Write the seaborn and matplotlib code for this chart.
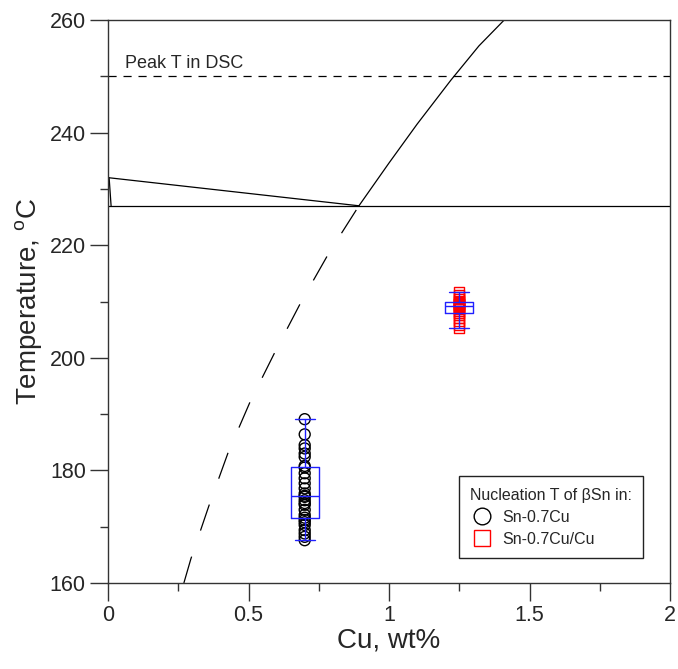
import numpy as np
import pandas as pd
import matplotlib
matplotlib.use("Agg")
import matplotlib.pyplot as plt
from matplotlib.lines import Line2D
from matplotlib.ticker import MultipleLocator
import seaborn as sns

# ---------------- data ----------------
alloys = ["Sn-0.7Cu", "Sn-0.7Cu/Cu"]
cu_levels = [0.7, 1.25]
t_sn07cu = [167.6, 168.2, 168.8, 169.4, 170.3, 170.8, 171.2, 171.6, 172.1, 173.0,
            173.9, 174.2, 174.7, 175.3, 175.5, 175.9, 176.8, 177.7, 178.6, 179.5,
            180.5, 180.8, 182.4, 183.0, 183.9, 184.5, 186.4, 189.1]
t_sn07cu_cu = [205.3, 205.9, 206.5, 207.0, 207.6, 208.0, 208.3, 208.6, 208.8, 209.0,
               209.2, 209.3, 209.5, 209.6, 209.8, 209.9, 210.1, 210.4, 210.8, 211.2,
               211.7]

# phase diagram lines
sn_liq_x = [0.0, 0.893]
sn_liq_T = [232.0, 227.0]
sn_sol_x = [0.004, 0.011]
sn_sol_T = [232.0, 227.0]
eut_x = [0.0, 2.0]
eut_T = [227.0, 227.0]
cu6sn5_meta_x = [0.270, 0.295, 0.359, 0.427, 0.505, 0.594, 0.687, 0.786, 0.893]
cu6sn5_meta_T = [160.0, 164.3, 173.7, 183.1, 192.1, 201.0, 209.9, 218.6, 227.0]
cu6sn5_x = [0.893, 1.0, 1.10, 1.22, 1.32, 1.41, 1.43]
cu6sn5_T = [227.0, 234.6, 241.5, 249.3, 255.4, 260.0, 261.0]
peak_T = 250.0
peak_label = "Peak T in DSC"

x_ticks = [0, 0.5, 1, 1.5, 2]
x_tick_labels = ["0", "0.5", "1", "1.5", "2"]
y_ticks = [160, 180, 200, 220, 240, 260]
y_tick_labels = ["160", "180", "200", "220", "240", "260"]

df = pd.DataFrame({
    "Cu": [cu_levels[0]] * len(t_sn07cu) + [cu_levels[1]] * len(t_sn07cu_cu),
    "T": t_sn07cu + t_sn07cu_cu,
    "alloy": [alloys[0]] * len(t_sn07cu) + [alloys[1]] * len(t_sn07cu_cu),
})

# ---------------- style ----------------
sns.set_style("ticks")
plt.rcParams["font.family"] = ["Liberation Sans", "DejaVu Sans"]
plt.rcParams["mathtext.fontset"] = "custom"
plt.rcParams["mathtext.rm"] = "Liberation Sans"
plt.rcParams["mathtext.it"] = "Liberation Sans:italic"

fig = plt.figure(figsize=(6.78, 6.69), dpi=100)
ax = fig.add_axes([108 / 678, 86 / 669, 562 / 678, 563 / 669])

lw = 0.9
sns.lineplot(x=sn_liq_x, y=sn_liq_T, ax=ax, color="black", linewidth=lw, sort=False, estimator=None)
sns.lineplot(x=sn_sol_x, y=sn_sol_T, ax=ax, color="black", linewidth=lw, sort=False, estimator=None)
sns.lineplot(x=eut_x, y=eut_T, ax=ax, color="black", linewidth=lw, sort=False, estimator=None)
sns.lineplot(x=cu6sn5_meta_x, y=cu6sn5_meta_T, ax=ax, color="black", linewidth=lw,
             sort=False, estimator=None, linestyle=(0, (22, 22)))
sns.lineplot(x=cu6sn5_x, y=cu6sn5_T, ax=ax, color="black", linewidth=lw, sort=False, estimator=None)
ax.axhline(peak_T, color="black", linewidth=lw, linestyle=(0, (6.5, 5.5)))
ax.text(0.06, peak_T + 0.8, peak_label, fontsize=13, ha="left", va="bottom")

# scatter points
sns.scatterplot(data=df[df.alloy == alloys[0]], x="Cu", y="T", ax=ax, marker="o",
                s=62, edgecolor="black", linewidth=1.0, legend=False)
ax.collections[-1].set_facecolor("none")
sns.scatterplot(data=df[df.alloy == alloys[1]], x="Cu", y="T", ax=ax, marker="s",
                s=52, edgecolor="red", linewidth=1.0, legend=False)
ax.collections[-1].set_facecolor("none")

# box plots
sns.boxplot(data=df, x="Cu", y="T", ax=ax, native_scale=True, width=0.1 / 0.55,
            fill=False, color="#2020ff", linecolor="#2020ff", linewidth=1.0,
            whis=(0, 100), showfliers=False, capwidths=0.07)

ax.set_xlim(0, 2)
ax.set_ylim(160, 260)
ax.set_xticks(x_ticks, x_tick_labels)
ax.set_yticks(y_ticks, y_tick_labels)
ax.xaxis.set_minor_locator(MultipleLocator(0.25))
ax.yaxis.set_minor_locator(MultipleLocator(10))
ax.tick_params(which="major", direction="out", length=13, width=1, labelsize=15.5, pad=3, color="#333333")
ax.tick_params(which="minor", direction="out", length=6, width=1, color="#333333")
for sp in ax.spines.values():
    sp.set_visible(True)
    sp.set_linewidth(1.0)
    sp.set_color("#333333")

ax.set_xlabel("Cu, wt%", fontsize=20, labelpad=1)
ax.set_ylabel(r"Temperature, $^{\rm o}$C", fontsize=20, labelpad=4)

handles = [
    Line2D([], [], marker="o", linestyle="none", markersize=12, markerfacecolor="none",
           markeredgecolor="black", markeredgewidth=1.0),
    Line2D([], [], marker="s", linestyle="none", markersize=12, markerfacecolor="none",
           markeredgecolor="red", markeredgewidth=1.0),
]
leg = ax.legend(handles, alloys, title="Nucleation T of \u03b2Sn in:", loc="lower right",
                bbox_to_anchor=(0.952, 0.044), borderaxespad=0, fontsize=11.5, title_fontsize=11.5,
                frameon=True, fancybox=False, edgecolor="#222222", framealpha=1,
                borderpad=0.7, handletextpad=0.5, labelspacing=0.45, handlelength=1.5,
                alignment="left")
leg.get_frame().set_linewidth(1.0)

fig.savefig("out.png", dpi=100)
